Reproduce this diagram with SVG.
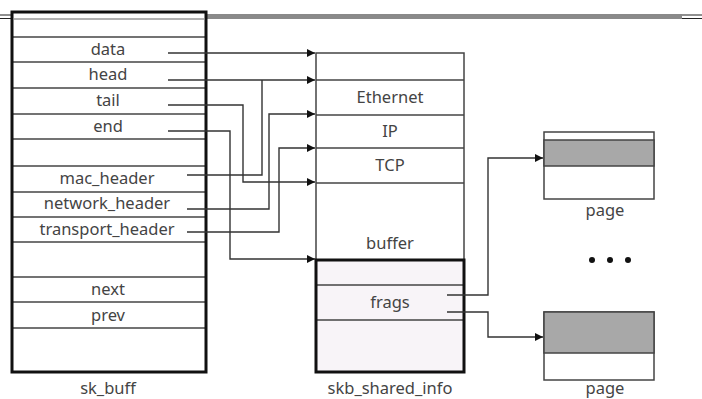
<svg xmlns="http://www.w3.org/2000/svg" width="702" height="399" viewBox="0 0 702 399">
<defs>
<style>
.t{font-family:"Noto Sans","Open Sans","Liberation Sans",sans-serif;font-size:16.5px;fill:#444;text-anchor:middle}
.row{stroke:#444;stroke-width:1.5;fill:none}
.c{stroke:#333;stroke-width:1.4;fill:none}
.box{stroke:#111;stroke-width:3;fill:none}
</style>
<marker id="ah" viewBox="0 0 10 10" refX="10" refY="5" markerWidth="9" markerHeight="8" markerUnits="userSpaceOnUse" orient="auto">
<path d="M0,0 L10,5 L0,10 z" fill="#111"/>
</marker>
</defs>
<rect width="702" height="399" fill="#fff"/>
<g id="header-rule">
<line x1="0" y1="15" x2="702" y2="15" stroke="#222" stroke-width="1.2"/>
<line x1="0" y1="18.5" x2="702" y2="18.5" stroke="#222" stroke-width="1.2"/>
<rect x="14" y="14" width="668" height="5" fill="#8a8a8a"/>
</g>
<g id="sk_buff">
<rect x="12" y="12" width="194" height="360" fill="#fff"/>
<line x1="14" y1="19" x2="204" y2="19" stroke="#999" stroke-width="1.5"/>
<g class="row">
<line x1="12" y1="37" x2="206" y2="37"/>
<line x1="12" y1="62" x2="206" y2="62"/>
<line x1="12" y1="88" x2="206" y2="88"/>
<line x1="12" y1="114" x2="206" y2="114"/>
<line x1="12" y1="139" x2="206" y2="139"/>
<line x1="12" y1="166" x2="206" y2="166"/>
<line x1="12" y1="192" x2="206" y2="192"/>
<line x1="12" y1="217" x2="206" y2="217"/>
<line x1="12" y1="242" x2="206" y2="242"/>
<line x1="12" y1="277" x2="206" y2="277"/>
<line x1="12" y1="302" x2="206" y2="302"/>
<line x1="12" y1="328" x2="206" y2="328"/>
</g>
<rect class="box" x="12" y="12" width="194" height="360"/>
<text class="t" x="108" y="55">data</text>
<text class="t" x="108" y="80">head</text>
<text class="t" x="108" y="106">tail</text>
<text class="t" x="108" y="132">end</text>
<text class="t" x="107" y="184">mac_header</text>
<text class="t" x="107" y="209">network_header</text>
<text class="t" x="107" y="235">transport_header</text>
<text class="t" x="108" y="295">next</text>
<text class="t" x="108" y="321">prev</text>
<text class="t" x="108" y="394">sk_buff</text>
</g>
<g id="buffer">
<rect x="316" y="53" width="148" height="207" fill="#fff" stroke="#444" stroke-width="1.5"/>
<g class="row">
<line x1="316" y1="80" x2="464" y2="80"/>
<line x1="316" y1="115" x2="464" y2="115"/>
<line x1="316" y1="148" x2="464" y2="148"/>
<line x1="316" y1="183" x2="464" y2="183"/>
</g>
<text class="t" x="390" y="103">Ethernet</text>
<text class="t" x="390" y="137">IP</text>
<text class="t" x="390" y="171">TCP</text>
<text class="t" x="390" y="249">buffer</text>
</g>
<g id="skb_shared_info">
<rect x="316" y="260" width="148" height="112" fill="#f8f4f8"/>
<g class="row">
<line x1="316" y1="285" x2="464" y2="285"/>
<line x1="316" y1="320" x2="464" y2="320"/>
</g>
<rect class="box" x="316" y="260" width="148" height="112"/>
<text class="t" x="390" y="308">frags</text>
<text class="t" x="390" y="394">skb_shared_info</text>
</g>
<g id="page1">
<rect x="544" y="132" width="110" height="67" fill="#fff" stroke="#444" stroke-width="1.5"/>
<rect x="544" y="140" width="110" height="26" fill="#a8a8a8" stroke="#444" stroke-width="1.5"/>
<text class="t" x="605" y="216">page</text>
</g>
<g id="ellipsis">
<circle cx="592" cy="260" r="3" fill="#111"/>
<circle cx="610" cy="260" r="3" fill="#111"/>
<circle cx="628" cy="260" r="3" fill="#111"/>
</g>
<g id="page2">
<rect x="544" y="312" width="110" height="68" fill="#fff" stroke="#444" stroke-width="1.5"/>
<rect x="544" y="312" width="110" height="41" fill="#a8a8a8" stroke="#444" stroke-width="1.5"/>
<text class="t" x="605" y="394">page</text>
</g>
<g id="connectors">
<polyline class="c" points="168,53 315,53" marker-end="url(#ah)"/>
<polyline class="c" points="168,80 315,80" marker-end="url(#ah)"/>
<polyline class="c" points="187,175 262,175 262,80"/>
<polyline class="c" points="168,105 243,105 243,182 315,182" marker-end="url(#ah)"/>
<polyline class="c" points="168,131 230,131 230,259 315,259" marker-end="url(#ah)"/>
<polyline class="c" points="187,209 269,209 269,114 315,114" marker-end="url(#ah)"/>
<polyline class="c" points="187,232 279,232 279,148 315,148" marker-end="url(#ah)"/>
<polyline class="c" points="447,295 488,295 488,158 543,158" marker-end="url(#ah)"/>
<polyline class="c" points="447,312 488,312 488,337 543,337" marker-end="url(#ah)"/>
</g>
</svg>
